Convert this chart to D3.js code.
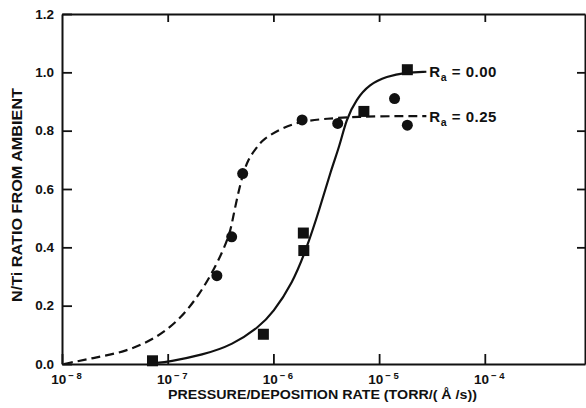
<!DOCTYPE html>
<html>
<head>
<meta charset="utf-8">
<script src="https://cdn.jsdelivr.net/npm/d3@7/dist/d3.min.js"></script>
<style>
  html, body { margin: 0; padding: 0; background: #fff; }
  svg { display: block; }
  text { font-family: "Liberation Sans", Arial, Helvetica, sans-serif; font-weight: bold; fill: #111; }
</style>
</head>
<body>
<svg id="chart" width="586" height="408"></svg>
<script>
// ---------- data ----------
const xTickValues = [1e-8, 1e-7, 1e-6, 1e-5, 1e-4];
const yTickValues = [0, 0.2, 0.4, 0.6, 0.8, 1.0, 1.2];
const yTickLabels = ["0.0", "0.2", "0.4", "0.6", "0.8", "1.0", "1.2"];
const rightTickValues = [0.4, 0.6, 0.8, 1.0];

// R_a = 0.25 measurements (circles)
const circleX = [2.92e-7, 4.03e-7, 5.12e-7, 1.87e-6, 4.06e-6, 1.40e-5, 1.85e-5];
const circleY = [0.303, 0.436, 0.653, 0.837, 0.825, 0.910, 0.819];
// R_a = 0.00 measurements (squares)
const squareX = [7.18e-8, 8.04e-7, 1.92e-6, 1.94e-6, 7.18e-6, 1.85e-5];
const squareY = [0.011, 0.102, 0.449, 0.389, 0.866, 1.009];

// fitted curve R_a = 0.00 (solid)
const fit000X = [7.45e-8, 1.03e-7, 2.14e-7, 4.11e-7, 7.36e-7, 9.84e-7, 1.52e-6, 2.04e-6, 2.73e-6, 3.52e-6, 4.23e-6, 4.89e-6, 6.08e-6, 8.13e-6, 1.17e-5, 1.81e-5, 2.80e-5];
const fit000Y = [0.003, 0.008, 0.031, 0.065, 0.128, 0.174, 0.278, 0.392, 0.530, 0.667, 0.747, 0.839, 0.908, 0.959, 0.986, 1.000, 1.002];
// fitted curve R_a = 0.25 (dashed)
const fit025X = [1.045e-8, 1.94e-8, 4.02e-8, 7.73e-8, 1.29e-7, 1.99e-7, 2.86e-7, 3.83e-7, 4.11e-7, 4.86e-7, 5.70e-7, 7.10e-7, 7.93e-7, 1.22e-6, 1.90e-6, 3.16e-6, 6.08e-6, 1.56e-5, 2.80e-5];
const fit025Y = [0.000, 0.020, 0.042, 0.088, 0.151, 0.237, 0.335, 0.438, 0.495, 0.621, 0.702, 0.746, 0.770, 0.811, 0.833, 0.841, 0.848, 0.850, 0.850];

const seriesLabels = ["0.00", "0.25"];
const xTitle = "PRESSURE/DEPOSITION RATE (TORR/( Å /s))";
const yTitle = "N/Ti RATIO FROM AMBIENT";

// ---------- layout ----------
const svg = d3.select("#chart");
const L = 62, R = 585, T = 14, B = 364;
const x = d3.scaleLog().domain([1e-8, 8.87e-4]).range([L, R]);
const y = d3.scaleLinear().domain([0, 1.2]).range([B, T]);

const ink = "#111";

// axes
const gx = svg.append("g").attr("transform", `translate(0,${B})`)
  .call(d3.axisBottom(x).tickValues(xTickValues).tickSizeInner(-10).tickSizeOuter(0).tickPadding(10).tickFormat(""));
gx.selectAll(".tick text").each(function(d) {
  const t = d3.select(this);
  const e = Math.round(Math.log10(d));
  t.attr("font-size", "13.5px").attr("text-anchor", "middle").attr("dx", "4");
  t.append("tspan").text("10");
  t.append("tspan").attr("dy", "-5").attr("font-size", "9.5px").attr("dx", "2").text("\u2212 " + Math.abs(e));
});

const gy = svg.append("g").attr("transform", `translate(${L},0)`)
  .call(d3.axisLeft(y).tickValues(yTickValues).tickSizeInner(-10).tickSizeOuter(0).tickPadding(8)
    .tickFormat((d, i) => yTickLabels[i]));
gy.selectAll(".tick text").attr("font-size", "13.5px");

const gt = svg.append("g").attr("transform", `translate(0,${T})`)
  .call(d3.axisTop(x).tickValues(xTickValues.slice(1)).tickSizeInner(-8).tickSizeOuter(0).tickFormat(""));
const gr = svg.append("g").attr("transform", `translate(${R},0)`)
  .call(d3.axisRight(y).tickValues(rightTickValues).tickSizeInner(-8).tickSizeOuter(0).tickFormat(""));

svg.selectAll(".domain").attr("stroke", ink).attr("stroke-width", 2);
svg.selectAll(".tick line").attr("stroke", ink).attr("stroke-width", 1.8);

// titles
svg.append("text").attr("x", (168 + 477) / 2).attr("y", 399).attr("text-anchor", "middle")
  .attr("font-size", "13.5px").attr("textLength", 309).attr("lengthAdjust", "spacingAndGlyphs").text(xTitle);
svg.append("text").attr("transform", "translate(22,195) rotate(-90)").attr("text-anchor", "middle")
  .attr("font-size", "14px").attr("textLength", 214).attr("lengthAdjust", "spacingAndGlyphs").text(yTitle);

// curves
const line = d3.line().x(d => x(d[0])).y(d => y(d[1])).curve(d3.curveBasis);
svg.append("path").datum(fit000X.map((v, i) => [v, fit000Y[i]]))
  .attr("d", line).attr("fill", "none").attr("stroke", ink).attr("stroke-width", 2.2);
svg.append("path").datum(fit025X.map((v, i) => [v, fit025Y[i]]))
  .attr("d", line).attr("fill", "none").attr("stroke", ink).attr("stroke-width", 2.2)
  .attr("stroke-dasharray", "9,5");

// markers
svg.append("g").selectAll("rect").data(squareX.map((v, i) => [v, squareY[i]])).join("rect")
  .attr("x", d => x(d[0]) - 5.5).attr("y", d => y(d[1]) - 5.5)
  .attr("width", 11).attr("height", 11).attr("fill", ink);
svg.append("g").selectAll("circle").data(circleX.map((v, i) => [v, circleY[i]])).join("circle")
  .attr("cx", d => x(d[0])).attr("cy", d => y(d[1])).attr("r", 5.5).attr("fill", ink);

// curve labels
const labelYs = [fit000Y[fit000Y.length - 1], fit025Y[fit025Y.length - 1]];
const labelX = fit000X[fit000X.length - 1];
seriesLabels.forEach((s, i) => {
  const t = svg.append("text").attr("x", x(labelX) + 3).attr("y", y(labelYs[i]) + 5.5)
    .attr("font-size", "15px").attr("textLength", 67).attr("lengthAdjust", "spacing");
  t.append("tspan").text("R");
  t.append("tspan").attr("font-size", "10.5px").attr("dy", "4").text("a");
  t.append("tspan").attr("dy", "-4").text(" = " + s);
});
</script>
</body>
</html>
